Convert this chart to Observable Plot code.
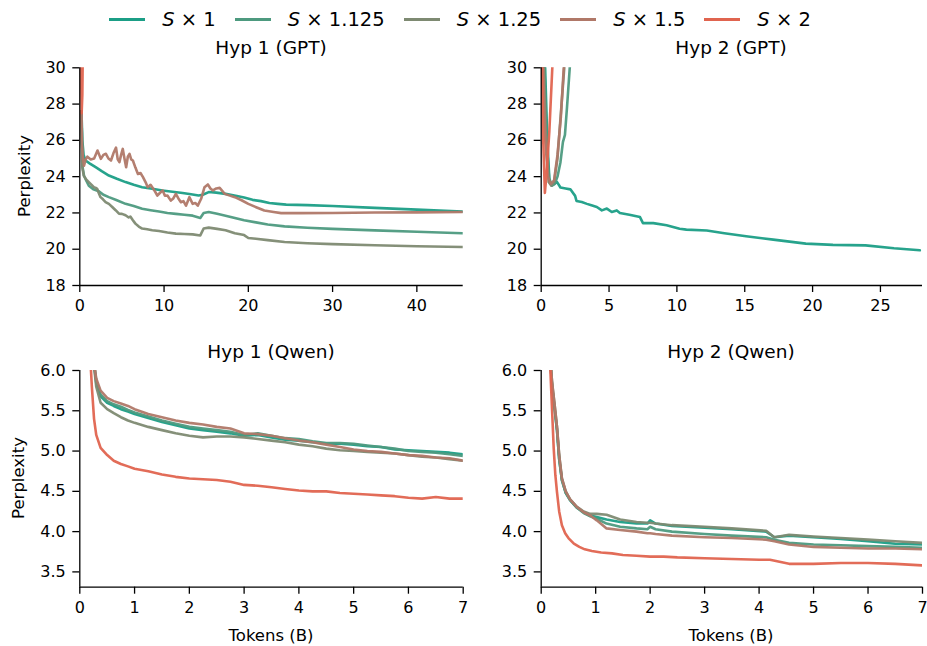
<!DOCTYPE html>
<html>
<head>
<meta charset="utf-8">
<script src="https://cdn.jsdelivr.net/npm/d3@7"></script>
<script src="https://cdn.jsdelivr.net/npm/@observablehq/plot@0.6"></script>
<style>
  body { margin: 0; background: #fff; font-family: "DejaVu Sans", sans-serif; color: #000; }
  #root { position: relative; width: 927px; height: 646px; overflow: hidden; background: #fff; }
  .panel { position: absolute; }
  .title { position: absolute; font-size: 18.5px; transform: translate(-50%, -50%); white-space: nowrap; }
  .xlabel { position: absolute; font-size: 16.5px; transform: translate(-50%, -50%); white-space: nowrap; }
  .ylabel { position: absolute; font-size: 16.5px; transform: translate(-50%, -50%) rotate(-90deg); white-space: nowrap; }
  #legend { position: absolute; left: 0; top: 0; width: 920px; height: 38px; display: flex; justify-content: center; align-items: center; gap: 19px; font-size: 19.5px; }
  .item { display: flex; align-items: center; }
  .sw { width: 36px; height: 3px; margin-right: 17px; }
  .item i { font-style: oblique; }
</style>
</head>
<body>
<div id="root"></div>
<script>
// ---------- series meta ----------
const seriesLabels = ["S|1", "S|1.125", "S|1.25", "S|1.5", "S|2"];
const seriesColors = ["#1b9e86", "#4d9a7f", "#7e8a72", "#b07868", "#e0644f"];

// ---------- Hyp 1 (GPT) ----------
const g1_s1_x = [0.2, 0.3, 0.45, 0.68, 1.2, 1.88, 2.6, 3.45, 4.4, 5.43, 6.4, 7.4, 8.6, 9.8, 11.0, 12.2, 13.2, 14.1, 14.6, 15.3, 16.2, 17.3, 18.5, 19.5, 20.5, 21.5, 22.5, 23.5, 24.5, 27.0, 30.0, 35.0, 40.0, 45.4];
const g1_s1_y = [27.6, 26.0, 25.2, 24.89, 24.72, 24.52, 24.3, 24.06, 23.88, 23.7, 23.55, 23.42, 23.33, 23.24, 23.17, 23.1, 23.03, 22.96, 23.0, 23.15, 23.12, 23.05, 22.95, 22.85, 22.72, 22.65, 22.55, 22.5, 22.46, 22.43, 22.38, 22.28, 22.18, 22.08];
const g1_s2_x = [0.2, 0.3, 0.5, 0.8, 1.07, 1.6, 2.26, 2.8, 3.45, 4.4, 5.43, 6.4, 7.4, 8.4, 9.4, 10.4, 11.4, 12.4, 13.4, 14.3, 14.7, 15.3, 16.3, 17.3, 18.4, 19.5, 20.9, 22.3, 24.3, 27.0, 30.0, 35.0, 40.0, 45.4];
const g1_s2_y = [27.6, 24.6, 24.05, 23.75, 23.5, 23.3, 23.2, 23.0, 22.87, 22.7, 22.5, 22.38, 22.23, 22.15, 22.08, 22.0, 21.95, 21.9, 21.85, 21.72, 22.0, 22.05, 21.95, 21.85, 21.72, 21.6, 21.48, 21.36, 21.26, 21.18, 21.12, 21.04, 20.96, 20.88];
const g1_s3_x = [0.2, 0.3, 0.47, 0.75, 1.07, 1.4, 1.66, 1.9, 2.06, 2.25, 2.46, 2.75, 3.06, 3.45, 3.85, 4.25, 4.65, 5.0, 5.43, 5.8, 6.0, 6.3, 6.6, 7.0, 7.4, 8.0, 8.6, 9.4, 10.4, 11.4, 12.4, 13.4, 14.3, 14.7, 15.3, 16.3, 17.3, 18.4, 19.5, 20.0, 20.9, 22.3, 24.3, 27.0, 30.0, 35.0, 40.0, 45.4];
const g1_s3_y = [27.6, 24.5, 24.06, 23.85, 23.7, 23.55, 23.42, 23.38, 23.33, 23.1, 22.87, 22.75, 22.6, 22.5, 22.33, 22.15, 21.96, 21.95, 21.87, 21.75, 21.8, 21.6, 21.41, 21.25, 21.14, 21.1, 21.05, 21.0, 20.92, 20.86, 20.84, 20.82, 20.76, 21.14, 21.19, 21.12, 21.05, 20.88, 20.78, 20.62, 20.58, 20.5, 20.4, 20.33, 20.28, 20.22, 20.16, 20.12];
const g1_s4_x = [0.2, 0.25, 0.4, 0.5, 0.7, 0.9, 1.3, 1.7, 2.1, 2.5, 2.8, 3.1, 3.4, 3.7, 4.0, 4.3, 4.5, 4.7, 4.9, 5.1, 5.3, 5.5, 5.7, 5.9, 6.1, 6.3, 6.6, 6.9, 7.2, 7.5, 7.8, 8.06, 8.4, 8.85, 9.2, 9.5, 9.84, 10.1, 10.4, 10.8, 11.1, 11.4, 11.7, 12.0, 12.3, 12.6, 13.0, 13.4, 13.7, 14.0, 14.4, 14.8, 15.2, 15.5, 15.8, 16.2, 16.6, 17.2, 18.4, 19.2, 20.0, 21.0, 21.9, 23.0, 23.9, 26.0, 30.0, 35.0, 40.0, 45.4];
const g1_s4_y = [27.6, 25.8, 24.9, 24.6, 24.95, 25.1, 24.95, 25.0, 25.44, 24.98, 25.2, 25.26, 25.0, 24.89, 25.3, 25.6, 24.95, 24.8, 25.2, 25.53, 25.0, 24.52, 25.1, 25.26, 24.95, 24.89, 24.5, 24.15, 24.2, 23.97, 23.7, 23.42, 23.55, 23.24, 22.96, 23.1, 23.24, 22.95, 22.96, 22.68, 22.8, 23.05, 22.8, 22.59, 22.65, 22.4, 22.87, 22.5, 22.55, 22.4, 22.78, 23.42, 23.57, 23.35, 23.24, 23.35, 23.38, 23.05, 22.87, 22.7, 22.5, 22.3, 22.13, 22.05, 21.99, 21.99, 22.0, 22.02, 22.03, 22.05];
const g1_s5_x = [0.12, 0.22, 0.3, 0.36];
const g1_s5_y = [31.0, 27.5, 28.5, 31.0];

// ---------- Hyp 2 (GPT) ----------
const g2_s1_x = [0.25, 0.45, 0.6, 0.75, 0.95, 1.17, 1.42, 1.8, 2.15, 2.5, 2.6, 2.99, 3.37, 3.7, 4.1, 4.47, 4.84, 5.2, 5.57, 5.8, 6.5, 7.28, 7.5, 8.26, 9.24, 10.2, 10.7, 12.2, 13.5, 15.1, 17.1, 19.5, 21.5, 23.9, 26.0, 27.9];
const g2_s1_y = [31.0, 26.0, 23.9, 23.55, 23.6, 23.7, 23.4, 23.35, 23.3, 22.94, 22.66, 22.6, 22.5, 22.42, 22.33, 22.14, 22.24, 22.05, 22.14, 22.0, 21.9, 21.77, 21.44, 21.44, 21.32, 21.13, 21.08, 21.03, 20.88, 20.71, 20.53, 20.31, 20.24, 20.21, 20.05, 19.94];
const g2_s2_x = [0.2, 0.4, 0.6, 0.8, 1.0, 1.2, 1.42, 1.6, 1.75, 1.9, 2.15];
const g2_s2_y = [31.0, 26.0, 23.7, 23.5, 23.6, 24.0, 24.8, 25.9, 26.3, 27.8, 30.5];
const g2_s3_x = [0.15, 0.35, 0.55, 0.75, 0.95, 1.2, 1.5, 1.75];
const g2_s3_y = [31.0, 26.0, 23.7, 23.5, 23.7, 25.0, 28.0, 30.5];
const g2_s4_x = [0.1, 0.3, 0.5, 0.7, 0.95, 1.2, 1.45, 1.7];
const g2_s4_y = [31.0, 26.0, 24.0, 23.6, 23.8, 25.2, 27.3, 30.5];
const g2_s5_x = [0.05, 0.15, 0.27, 0.4, 0.6, 0.85];
const g2_s5_y = [31.0, 26.0, 23.1, 24.2, 26.5, 30.5];

// ---------- Hyp 1 (Qwen) ----------
const q1_x = [0.22, 0.3, 0.38, 0.5, 0.62, 0.75, 0.88, 1.0, 1.25, 1.5, 1.75, 2.0, 2.25, 2.5, 2.75, 3.0, 3.25, 3.5, 3.75, 4.0, 4.25, 4.5, 4.75, 5.0, 5.25, 5.5, 5.75, 6.0, 6.25, 6.5, 6.75, 7.0];
const q1_s1_y = [6.3, 5.85, 5.68, 5.6, 5.56, 5.52, 5.49, 5.46, 5.41, 5.36, 5.32, 5.28, 5.26, 5.24, 5.22, 5.19, 5.2, 5.17, 5.14, 5.13, 5.11, 5.09, 5.09, 5.08, 5.06, 5.05, 5.02, 5.01, 5.0, 4.99, 4.98, 4.96];
const q1_s2_y = [6.3, 5.88, 5.7, 5.62, 5.58, 5.55, 5.51, 5.48, 5.43, 5.38, 5.34, 5.3, 5.28, 5.26, 5.24, 5.2, 5.22, 5.19, 5.16, 5.15, 5.12, 5.1, 5.1, 5.09, 5.07, 5.05, 5.03, 5.0, 4.99, 4.98, 4.96, 4.94];
const q1_s3_y = [6.3, 5.8, 5.6, 5.52, 5.47, 5.42, 5.38, 5.35, 5.3, 5.26, 5.22, 5.19, 5.17, 5.18, 5.18, 5.17, 5.15, 5.13, 5.11, 5.08, 5.06, 5.03, 5.01, 5.0, 4.99, 4.98, 4.97, 4.95, 4.93, 4.92, 4.9, 4.88];
const q1_s4_y = [6.3, 5.9, 5.75, 5.66, 5.62, 5.59, 5.56, 5.52, 5.46, 5.42, 5.38, 5.35, 5.33, 5.3, 5.28, 5.22, 5.21, 5.19, 5.16, 5.13, 5.11, 5.08, 5.05, 5.02, 5.0, 4.99, 4.97, 4.95, 4.94, 4.92, 4.91, 4.88];
const q1_s5_x = [0.18, 0.22, 0.26, 0.3, 0.38, 0.5, 0.62, 0.75, 0.88, 1.0, 1.25, 1.5, 1.75, 2.0, 2.25, 2.5, 2.75, 3.0, 3.25, 3.5, 3.75, 4.0, 4.25, 4.5, 4.75, 5.0, 5.25, 5.5, 5.75, 6.0, 6.25, 6.5, 6.75, 7.0];
const q1_s5_y = [6.3, 5.8, 5.4, 5.2, 5.04, 4.95, 4.88, 4.84, 4.81, 4.78, 4.75, 4.71, 4.68, 4.66, 4.65, 4.64, 4.62, 4.58, 4.57, 4.55, 4.53, 4.51, 4.5, 4.5, 4.48, 4.47, 4.46, 4.45, 4.44, 4.42, 4.41, 4.43, 4.41, 4.41];

// ---------- Hyp 2 (Qwen) ----------
const q2_x = [0.15, 0.2, 0.25, 0.29, 0.33, 0.38, 0.45, 0.53, 0.65, 0.78, 0.9, 1.02, 1.2, 1.45, 1.75, 1.95, 2.0, 2.1, 2.4, 3.0, 3.5, 4.13, 4.28, 4.55, 5.0, 5.5, 6.0, 6.5, 7.0];
const q2_s1_y = [6.3, 5.8, 5.5, 5.26, 4.9, 4.64, 4.48, 4.39, 4.3, 4.24, 4.2, 4.18, 4.15, 4.12, 4.1, 4.1, 4.14, 4.1, 4.07, 4.05, 4.03, 4.0, 3.93, 3.95, 3.93, 3.91, 3.88, 3.85, 3.84];
const q2_s2_y = [6.3, 5.8, 5.5, 5.26, 4.9, 4.64, 4.48, 4.39, 4.3, 4.23, 4.19, 4.16, 4.1, 4.06, 4.04, 4.03, 4.06, 4.03, 4.0, 3.97, 3.95, 3.93, 3.9, 3.86, 3.84, 3.83, 3.82, 3.81, 3.8];
const q2_s3_y = [6.3, 5.85, 5.55, 5.3, 4.95, 4.66, 4.5, 4.4, 4.31, 4.25, 4.22, 4.22, 4.21, 4.15, 4.12, 4.11, 4.11, 4.1, 4.08, 4.06, 4.04, 4.01, 3.93, 3.96, 3.94, 3.92, 3.9, 3.88, 3.86];
const q2_s4_y = [6.3, 5.85, 5.55, 5.3, 4.95, 4.66, 4.5, 4.4, 4.31, 4.24, 4.2, 4.14, 4.04, 4.02, 4.0, 3.98, 3.98, 3.97, 3.95, 3.93, 3.92, 3.9, 3.88, 3.84, 3.81, 3.8, 3.79, 3.79, 3.78];
const q2_s5_x = [0.15, 0.2, 0.23, 0.26, 0.29, 0.33, 0.38, 0.44, 0.5, 0.6, 0.7, 0.8, 0.93, 1.1, 1.3, 1.5, 1.75, 2.0, 2.25, 2.5, 3.0, 3.5, 4.0, 4.2, 4.55, 5.0, 5.5, 6.0, 6.5, 7.0];
const q2_s5_y = [6.3, 5.5, 5.03, 4.7, 4.49, 4.25, 4.08, 3.98, 3.92, 3.85, 3.81, 3.78, 3.76, 3.74, 3.73, 3.71, 3.7, 3.69, 3.69, 3.68, 3.67, 3.66, 3.65, 3.65, 3.6, 3.6, 3.61, 3.61, 3.6, 3.58];

// ---------- ticks ----------
const g1_xticks = [0, 10, 20, 30, 40];
const g2_xticks = [0, 5, 10, 15, 20, 25];
const gpt_yticks = [18, 20, 22, 24, 26, 28, 30];
const qwen_xticks = [0, 1, 2, 3, 4, 5, 6, 7];
const qwen_yticks = [3.5, 4.0, 4.5, 5.0, 5.5, 6.0];

// ---------- helpers ----------
const rows = (xs, ys) => xs.map((x, i) => ({x, y: ys[i]}));
const root = document.getElementById("root");

function panel(cfg) {
  const marks = cfg.series.map((s, k) =>
    Plot.line(rows(s[0], s[1]), {x: "x", y: "y", stroke: seriesColors[k], strokeWidth: 2.6, strokeOpacity: 0.95, clip: true}));
  marks.push(Plot.ruleX([cfg.xd[0]], {stroke: "#000", strokeWidth: 1.3}));
  marks.push(Plot.ruleY([cfg.yd[0]], {stroke: "#000", strokeWidth: 1.3}));
  marks.push(Plot.axisX({ticks: cfg.xt, tickSize: 7, tickPadding: 7, label: null, tickFormat: d => String(d), strokeWidth: 1.3}));
  marks.push(Plot.axisY({ticks: cfg.yt, tickSize: 7, tickPadding: 7, label: null, tickFormat: cfg.yf, strokeWidth: 1.3}));
  const svg = Plot.plot({
    width: cfg.w, height: cfg.h,
    marginLeft: cfg.ml, marginRight: cfg.mr, marginTop: cfg.mt, marginBottom: cfg.mb,
    x: {domain: cfg.xd}, y: {domain: cfg.yd},
    style: {fontFamily: "DejaVu Sans", fontSize: "16px", color: "#000", background: "transparent", overflow: "visible"},
    marks
  });
  svg.classList.add("panel");
  svg.style.left = cfg.left + "px";
  svg.style.top = cfg.top + "px";
  root.appendChild(svg);
}

function text(cls, str, x, y) {
  const d = document.createElement("div");
  d.className = cls; d.textContent = str;
  d.style.left = x + "px"; d.style.top = y + "px";
  root.appendChild(d);
}

// top-left
panel({left: 0, top: 50, w: 470, h: 270, ml: 79.3, mr: 7.3, mt: 17.3, mb: 35,
  xd: [0, 45.5], yd: [18, 30], xt: g1_xticks, yt: gpt_yticks, yf: d => String(d),
  series: [[g1_s1_x, g1_s1_y], [g1_s2_x, g1_s2_y], [g1_s3_x, g1_s3_y], [g1_s4_x, g1_s4_y], [g1_s5_x, g1_s5_y]]});
// top-right
panel({left: 470, top: 50, w: 457, h: 270, ml: 70.7, mr: 5, mt: 17.3, mb: 35,
  xd: [0, 28.1], yd: [18, 30], xt: g2_xticks, yt: gpt_yticks, yf: d => String(d),
  series: [[g2_s1_x, g2_s1_y], [g2_s2_x, g2_s2_y], [g2_s3_x, g2_s3_y], [g2_s4_x, g2_s4_y], [g2_s5_x, g2_s5_y]]});
// bottom-left
panel({left: 0, top: 355, w: 470, h: 270, ml: 79.3, mr: 7.3, mt: 15, mb: 38.3,
  xd: [0, 7], yd: [3.31, 6.0], xt: qwen_xticks, yt: qwen_yticks, yf: d => d.toFixed(1),
  series: [[q1_x, q1_s1_y], [q1_x, q1_s2_y], [q1_x, q1_s3_y], [q1_x, q1_s4_y], [q1_s5_x, q1_s5_y]]});
// bottom-right
panel({left: 470, top: 355, w: 457, h: 270, ml: 70.7, mr: 5, mt: 15, mb: 38.3,
  xd: [0, 7], yd: [3.31, 6.0], xt: qwen_xticks, yt: qwen_yticks, yf: d => d.toFixed(1),
  series: [[q2_x, q2_s1_y], [q2_x, q2_s2_y], [q2_x, q2_s3_y], [q2_x, q2_s4_y], [q2_s5_x, q2_s5_y]]});

// titles and labels
text("title", "Hyp 1 (GPT)", 271, 47);
text("title", "Hyp 2 (GPT)", 731, 47);
text("title", "Hyp 1 (Qwen)", 271, 351);
text("title", "Hyp 2 (Qwen)", 731, 351);
text("ylabel", "Perplexity", 24, 176);
text("ylabel", "Perplexity", 18, 478);
text("xlabel", "Tokens (B)", 271, 635);
text("xlabel", "Tokens (B)", 731, 635);

// legend
const leg = document.createElement("div");
leg.id = "legend";
seriesLabels.forEach((lab, k) => {
  const [s, v] = lab.split("|");
  const it = document.createElement("div");
  it.className = "item";
  const sw = document.createElement("div");
  sw.className = "sw"; sw.style.background = seriesColors[k];
  const t = document.createElement("span");
  const ii = document.createElement("i"); ii.textContent = s;
  t.appendChild(ii);
  t.appendChild(document.createTextNode(" \u00d7 " + v));
  it.appendChild(sw); it.appendChild(t);
  leg.appendChild(it);
});
root.appendChild(leg);
</script>
</body>
</html>
